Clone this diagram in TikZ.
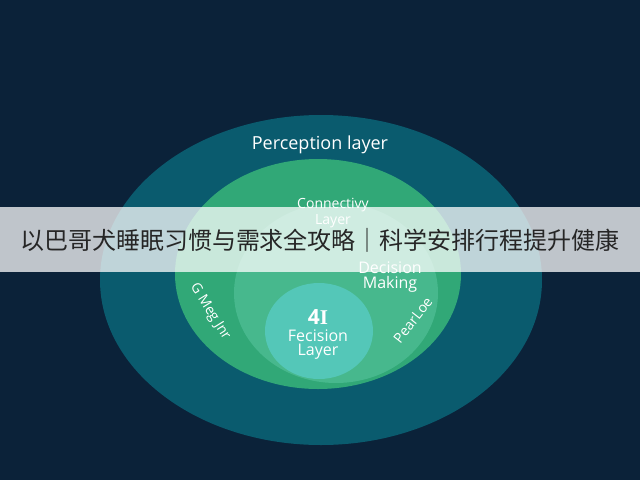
\documentclass[tikz,border=0pt]{standalone}
\usepackage{fontspec}
\setmainfont{Open Sans}
\newfontfamily\cjk{Noto Sans CJK SC}
\newfontfamily\seriffont{Liberation Serif}
\usetikzlibrary{positioning}

\definecolor{navy}{HTML}{0B2239}
\definecolor{perception}{HTML}{0A5B6E}
\definecolor{connectivity}{HTML}{31A877}
\definecolor{decision}{HTML}{47B88D}
\definecolor{core}{HTML}{54C7B8}

\begin{document}
\begin{tikzpicture}[
      x=1pt,y=-1pt,
      layer text/.style ={text=white,font=\fontsize{#1}{#1}\selectfont,inner sep=0pt,align=center},
      layer text/.default=16]
    \useasboundingbox (0,0) rectangle (640,480);
    \fill[navy] (0,0) rectangle (640,480);
    % rings
    \fill[perception] (321,280) ellipse [x radius=221, y radius=165];
    \fill[connectivity] (318,274) ellipse [x radius=143, y radius=115];
    \fill[decision] (336,293) ellipse [x radius=102, y radius=90];
    \fill[core] (319,331) ellipse [x radius=54, y radius=48];
    % labels
    \node[layer text=18] (perception) at (320,145) {Perception layer};
    \node[layer text=14] (connect) at (333,205) {Connectivy};
    \node[layer text=14, below=2pt of connect] (connectlayer) {Layer};
    \node[layer text] (decide) at (390,268) {Decision};
    \node[layer text, below=2pt of decide] (making) {Making};
    \node[layer text=21, font=\fontsize{21}{21}\selectfont\bfseries] (core) at (318,317) {4{\seriffont I}};
    \node[layer text, below=5pt of core] (fecision) {Fecision};
    \node[layer text, below=2pt of fecision] (corelayer) {Layer};
    \node[layer text=14, rotate=-58] (leftarc) at (210,312) {G Meg Jnr};
    \node[layer text=14, rotate=52] (rightarc) at (413,320) {PearLoe};
    % caption band
    \fill[white, opacity=0.74] (0,207) rectangle (640,272);
    \node[text=black!85, font=\cjk\fontsize{24}{24}\selectfont, inner sep=0pt] (caption) at (320,240)
      {以巴哥犬睡眠习惯与需求全攻略｜科学安排行程提升健康};
\end{tikzpicture}
\end{document}
